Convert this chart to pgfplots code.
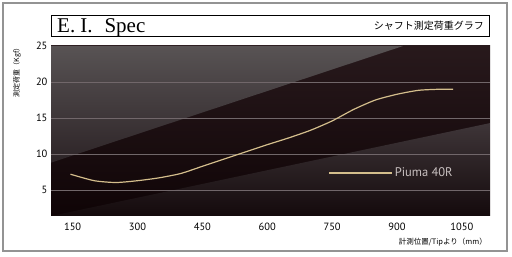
\documentclass[border=0pt]{standalone}
\usepackage{fontspec}
\setmainfont{PT Sans}
\newfontfamily\jp{Noto Sans CJK JP}
\newfontfamily\tms{Liberation Serif}
\usepackage{pgfplots}
\pgfplotsset{compat=1.18}
\definecolor{cA}{HTML}{28191C}
\definecolor{cB}{HTML}{0F0406}
\definecolor{gA}{HTML}{585354}
\definecolor{gB}{HTML}{2D2427}
\definecolor{lA}{HTML}{3E3538}
\definecolor{lB}{HTML}{140A0C}
\definecolor{gridc}{HTML}{71676A}
\definecolor{curve}{HTML}{D4BE8C}
\definecolor{legtext}{HTML}{C8C0C0}
\begin{document}
\begin{tikzpicture}
\fill[white] (0pt,0pt) rectangle (512pt,257pt);
\draw[gray!85, line width=1.3pt] (3pt,6pt) rectangle (507pt,254pt);
\draw[black, line width=0.8pt] (51pt,221pt) rectangle (489pt,242pt);
\node[anchor=base west, font=\tms\fontsize{21}{21}\selectfont, inner sep=0] at (57pt,224.5pt) {E.\hspace{5pt}I.\hspace{12pt}Spec};
\node[anchor=east, font=\jp\fontsize{10}{10}\selectfont, inner sep=0] at (484pt,231pt) {シャフト測定荷重グラフ};
\node[rotate=90, font=\jp\fontsize{7}{7}\selectfont, inner sep=0] at (17pt,186pt) {測定荷重（Kgf）};
\node[anchor=east, font=\jp\fontsize{7.5}{8}\selectfont, inner sep=0] at (487pt,15pt) {計測位置/Tipより（mm）};
\begin{axis}[
  at={(51pt,41pt)}, anchor=south west,
  scale only axis, width=439pt, height=170pt,
  xmin=100, xmax=1115, ymin=1.4, ymax=25,
  axis line style={draw=none},
  tick style={draw=none},
  xtick={150,300,450,600,750,900,1050},
  ytick={5,10,15,20,25},
  tick label style={font=\fontsize{10.5}{11}\selectfont, text=black},
  xticklabel style={yshift=-3.5pt},
  /pgf/number format/assume math mode=true,
  /pgf/number format/1000 sep={},
  legend style={at={(0.632,0.253)}, anchor=west, draw=none, fill=none,
    font=\fontsize{12.5}{13}\selectfont, text=legtext, inner sep=0pt},
  legend image code/.code={\draw[#1] (0pt,0pt) -- (63pt,0pt);},
  legend cell align=left,
]
\shade[top color=cA, bottom color=cB] (axis cs:100,1.4) rectangle (axis cs:1115,25);
\shade[top color=gA, bottom color=gB] (axis cs:100,25) -- (axis cs:100,8.8) -- (axis cs:914,25) -- cycle;
\shade[top color=lA, bottom color=lB] (axis cs:100,1.4) -- (axis cs:1115,14.3) -- (axis cs:1115,1.4) -- cycle;
\draw[gridc, line width=0.6pt] (axis cs:100,5) -- (axis cs:1115,5);
\draw[gridc, line width=0.6pt] (axis cs:100,10) -- (axis cs:1115,10);
\draw[gridc, line width=0.6pt] (axis cs:100,15) -- (axis cs:1115,15);
\draw[gridc, line width=0.6pt] (axis cs:100,20) -- (axis cs:1115,20);
\addplot[curve, line width=1.2pt, smooth, tension=0.4] coordinates {
(145,7.2) (200,6.3) (250,6.05) (300,6.3) (350,6.7) (400,7.3) (450,8.3) (500,9.3)
(550,10.3) (600,11.3) (650,12.25) (700,13.3) (750,14.6) (800,16.2) (850,17.5)
(900,18.3) (950,18.85) (1000,19.0) (1030,19.0)
};
\addlegendentry{Piuma 40R}
\end{axis}
\path (0pt,0pt) rectangle (512pt,257pt);
\end{tikzpicture}
\end{document}
